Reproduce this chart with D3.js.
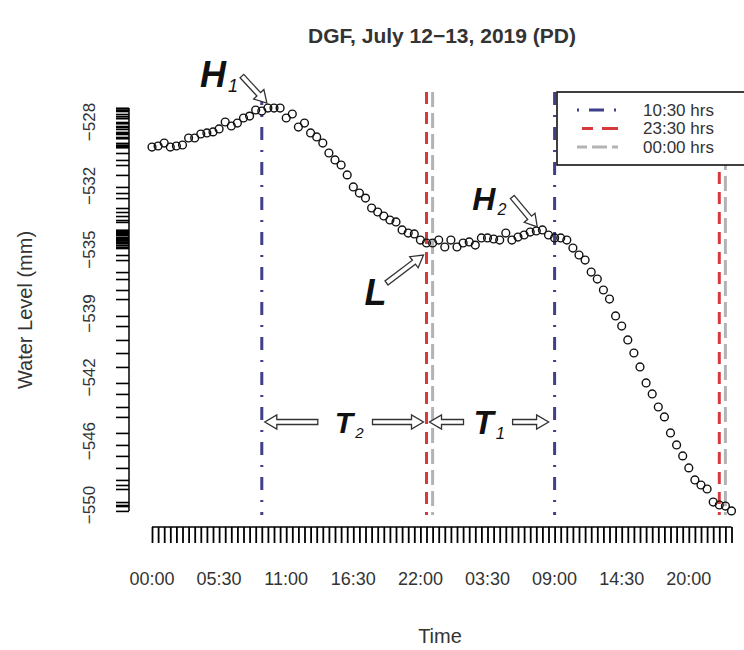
<!DOCTYPE html>
<html>
<head>
<meta charset="utf-8">
<script src="https://cdnjs.cloudflare.com/ajax/libs/d3/7.8.5/d3.min.js"></script>
<style>
  body { margin: 0; background: #fff; }
  text { font-family: "Liberation Sans", Arial, sans-serif; fill: #333; }
</style>
</head>
<body>
<svg id="chart"></svg>
<script>
// half-hourly readings, hours since 00:00 on July 12
var hours = d3.range(0, 48, 0.5);

var waterLevel = [
  -529.44, -529.38, -529.21, -529.44, -529.38, -529.32, -528.92, -528.92, -528.69, -528.63,
  -528.57, -528.40, -528.00, -528.23, -528.06, -527.77, -527.66, -527.31, -527.37, -527.20,
  -527.20, -527.20, -527.77, -527.54, -528.29, -528.06, -528.63, -528.86, -529.21, -529.78,
  -530.18, -530.47, -531.04, -531.73, -532.08, -532.37, -532.94, -533.17, -533.40, -533.63,
  -533.74, -534.20, -534.38, -534.43, -534.78, -534.95, -534.95, -534.78, -535.18, -534.78,
  -535.18, -534.95, -534.89, -535.07, -534.66, -534.66, -534.72, -534.78, -534.38, -534.78,
  -534.61, -534.49, -534.32, -534.26, -534.20, -534.49, -534.66, -534.66, -534.78, -535.24,
  -535.64, -535.93, -536.62, -537.02, -537.65, -538.17, -539.14, -539.72, -540.52, -541.27,
  -542.07, -542.99, -543.62, -544.37, -544.94, -545.86, -546.55, -547.18, -547.87, -548.56,
  -548.85, -549.08, -549.83, -550.00, -550.06, -550.34
];

var xTickHours = [0, 5.5, 11, 16.5, 22, 27.5, 33, 38.5, 44];
var xTickLabels = ["00:00", "05:30", "11:00", "16:30", "22:00", "03:30", "09:00", "14:30", "20:00"];

var yTickValues = [-528, -531.67, -535.33, -539, -542.67, -546.33, -550];
var yTickLabels = ["\u2212528", "\u2212532", "\u2212535", "\u2212539", "\u2212542", "\u2212546", "\u2212550"];

var refNames = ["10:30 hrs", "23:30 hrs", "00:00 hrs"];
var refColors = ["#3f3f8c", "#d63a3c", "#b3b3b3"];
var refDash = ["13,10,2,10", "12,8", "15,6"];
var refHours = [[9, 33], [22.5, 46.5], [23, 47]];

var data = hours.map(function(h, i) { return {x: h, y: waterLevel[i]}; });

var width = 744, height = 650;

var svg = d3.select("#chart")
    .attr("width", width)
    .attr("height", height);

var xScale = d3.scaleLinear()
    .domain([0, 47.5])
    .range([152, 731.5]);

var yScale = d3.scaleLinear()
    .domain([-550, -528])
    .range([505, 122]);

// title and axis titles
svg.append("text")
    .attr("x", 442)
    .attr("y", 43)
    .style("text-anchor", "middle")
    .style("font-size", "21px")
    .style("font-weight", "bold")
    .text("DGF, July 12\u221213, 2019 (PD)");

svg.append("text")
    .attr("x", 440)
    .attr("y", 643)
    .style("text-anchor", "middle")
    .style("font-size", "20px")
    .text("Time");

svg.append("text")
    .attr("transform", "translate(32,310) rotate(-90)")
    .style("text-anchor", "middle")
    .style("font-size", "20px")
    .text("Water Level (mm)");

// x axis: a tick for every reading
var xAxis = d3.axisBottom(xScale)
    .tickValues(hours)
    .tickSize(16)
    .tickFormat("");

svg.append("g")
    .attr("class", "x axis")
    .attr("transform", "translate(0,527)")
    .call(xAxis)
    .call(function(g) {
        g.select(".domain").attr("d", "M" + xScale(0) + ",0H" + xScale(47.5)).attr("stroke-width", 1.5);
        g.selectAll(".tick line").attr("stroke-width", 1.8);
    });

svg.selectAll(".xlab")
    .data(xTickHours)
    .enter().append("text")
    .attr("class", "xlab")
    .attr("x", function(d) { return xScale(d); })
    .attr("y", 585)
    .style("text-anchor", "middle")
    .style("font-size", "18px")
    .text(function(d, i) { return xTickLabels[i]; });

// y axis: a tick for every reading value
var yAxis = d3.axisLeft(yScale)
    .tickValues(waterLevel)
    .tickSize(13)
    .tickFormat("");

svg.append("g")
    .attr("class", "y axis")
    .attr("transform", "translate(129,0)")
    .call(yAxis)
    .call(function(g) {
        var ext = d3.extent(waterLevel);
        g.select(".domain").attr("d", "M0," + yScale(ext[1]) + "V" + yScale(ext[0])).attr("stroke-width", 1.5);
        g.selectAll(".tick line").attr("stroke-width", 1.6);
    });

svg.selectAll(".ylab")
    .data(yTickValues)
    .enter().append("text")
    .attr("class", "ylab")
    .attr("transform", function(d) { return "translate(95," + yScale(d) + ") rotate(-90)"; })
    .style("text-anchor", "middle")
    .style("font-size", "17px")
    .text(function(d, i) { return yTickLabels[i]; });

// reference lines
refHours.forEach(function(hs, k) {
    svg.selectAll(".ref" + k)
        .data(hs)
        .enter().append("line")
        .attr("class", "ref" + k)
        .attr("x1", function(d) { return xScale(d); })
        .attr("x2", function(d) { return xScale(d); })
        .attr("y1", 92)
        .attr("y2", 515)
        .attr("stroke", refColors[k])
        .attr("stroke-width", 3)
        .attr("stroke-dasharray", refDash[k]);
});

// readings
svg.selectAll(".dot")
    .data(data)
    .enter().append("circle")
    .attr("class", "dot")
    .attr("r", 3.9)
    .attr("cx", function(d) { return xScale(d.x); })
    .attr("cy", function(d) { return yScale(d.y); })
    .attr("fill", "none")
    .attr("stroke", "#111")
    .attr("stroke-width", 1.4);

// open block arrows
function blockArrow(x1, y1, x2, y2) {
    var dx = x2 - x1, dy = y2 - y1,
        len = Math.sqrt(dx * dx + dy * dy),
        ux = dx / len, uy = dy / len,
        nx = -uy, ny = ux,
        head = 12, hw = 7, sw = 2.5;
    var bx = x2 - ux * head, by = y2 - uy * head;
    var pts = [
        [x1 + nx * sw, y1 + ny * sw],
        [bx + nx * sw, by + ny * sw],
        [bx + nx * hw, by + ny * hw],
        [x2, y2],
        [bx - nx * hw, by - ny * hw],
        [bx - nx * sw, by - ny * sw],
        [x1 - nx * sw, y1 - ny * sw]
    ];
    svg.append("path")
        .attr("d", "M" + pts.join("L") + "Z")
        .attr("fill", "#fff")
        .attr("stroke", "#333")
        .attr("stroke-width", 1.3);
}

var peak1 = data[19], peak2 = data[63], low = data[45];

blockArrow(xScale(peak1.x) - 26, yScale(peak1.y) - 32, xScale(peak1.x) - 1, yScale(peak1.y) - 5);
blockArrow(xScale(peak2.x) - 24, yScale(peak2.y) - 34, xScale(peak2.x) + 1, yScale(peak2.y) - 4);
blockArrow(xScale(low.x) - 40, yScale(low.y) + 40, xScale(low.x) - 3, yScale(low.y) + 12);

var tY = 422;
blockArrow(xScale(9) + 56, tY, xScale(9) + 3, tY);
blockArrow(xScale(22.5) - 54, tY, xScale(22.5) - 3, tY);
blockArrow(xScale(22.5) + 37, tY, xScale(22.5) + 3, tY);
blockArrow(xScale(33) - 42, tY, xScale(33) - 6, tY);

function label(x, y, main, sub, size) {
    var t = svg.append("text")
        .attr("x", x)
        .attr("y", y)
        .style("font-size", size + "px")
        .style("font-style", "italic")
        .style("font-weight", "bold")
        .style("fill", "#111");
    t.append("tspan").text(main);
    if (sub) {
        t.append("tspan")
            .attr("dx", 2)
            .attr("dy", size * 0.15)
            .style("font-size", (size * 0.5) + "px")
            .style("font-weight", "normal")
            .text(sub);
    }
}

label(xScale(peak1.x) - 68, yScale(peak1.y) - 21, "H", "1", 36);
label(xScale(peak2.x) - 64, yScale(peak2.y) - 21, "H", "2", 32);
label(xScale(low.x) - 62, yScale(low.y) + 62, "L", null, 36);
label(xScale(9) + 73, tY + 11, "T", "2", 30);
label(xScale(22.5) + 47, tY + 12, "T", "1", 33);

// legend
var legend = svg.append("g")
    .attr("class", "legend");

legend.append("rect")
    .attr("x", 557)
    .attr("y", 92)
    .attr("width", 200)
    .attr("height", 73)
    .attr("fill", "#fff")
    .attr("stroke", "#111")
    .attr("stroke-width", 1.6);

var rows = legend.selectAll(".row")
    .data(refNames)
    .enter().append("g")
    .attr("class", "row")
    .attr("transform", function(d, i) { return "translate(0," + (110 + i * 18.5) + ")"; });

rows.append("line")
    .attr("x1", 577)
    .attr("x2", 618)
    .attr("stroke", function(d, i) { return refColors[i]; })
    .attr("stroke-width", 3)
    .attr("stroke-dasharray", function(d, i) { return ["2,10,15,10,2", "0,5,11,9,11", "10,5,15,5,10"][i]; });

rows.append("text")
    .attr("x", 643)
    .attr("dy", ".35em")
    .style("font-size", "17px")
    .text(function(d) { return d; });
</script>
</body>
</html>
